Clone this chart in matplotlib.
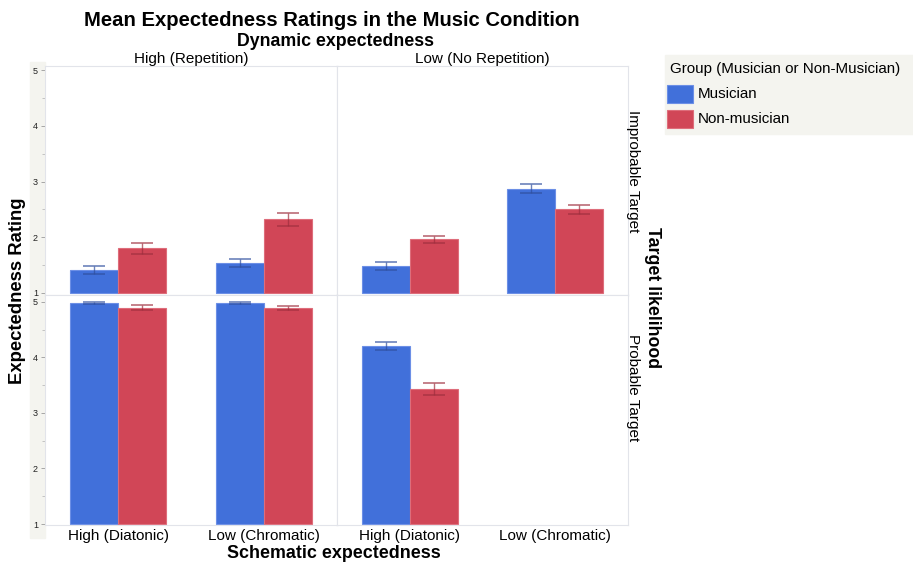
import matplotlib
matplotlib.use("Agg")
import matplotlib.pyplot as plt
from matplotlib.patches import Rectangle
import numpy as np

plt.rcParams['font.family'] = ['Liberation Sans', 'DejaVu Sans']

# Facet levels
dynamic_levels = ["High (Repetition)", "Low (No Repetition)"]
target_levels = ["Improbable Target", "Probable Target"]
schematic_levels = ["High (Diatonic)", "Low (Chromatic)"]
groups = ["Musician", "Non-musician"]

# Mean ratings [target][dynamic][schematic]; None = no data
musician_means = [
    [[1.41, 1.54], [1.49, 2.87]],
    [[4.98, 4.98], [4.21, None]],
]
musician_err = [
    [[0.07, 0.075], [0.07, 0.08]],
    [[0.025, 0.02], [0.075, None]],
]
nonmusician_means = [
    [[1.80, 2.32], [1.96, 2.50]],
    [[4.90, 4.89], [3.43, None]],
]
nonmusician_err = [
    [[0.095, 0.11], [0.07, 0.08]],
    [[0.04, 0.03], [0.11, None]],
]

yticks = [1, 2, 3, 4, 5]

blue = "#4170DA"
red = "#D14657"
blue_edge = "#6C8FE6"
red_edge = "#DE6D7B"
blue_err = "#2F4F9E"
red_err = "#9E2F3E"

W, H = 913, 562
fig = plt.figure(figsize=(W / 100, H / 100), dpi=100)


def box(x0, y0, x1, y1):
    return [x0 / W, 1 - y1 / H, (x1 - x0) / W, (y1 - y0) / H]


# Light strip behind the y axis
fig.patches.append(Rectangle((30 / W, 1 - 538 / H), 15 / W, 476 / H,
                             transform=fig.transFigure, color="#F4F4EF", zorder=-1))

col_x = [(45, 337), (337, 628)]
row_y = [(66, 295), (295, 525)]
row_ylim = [(0.964, 5.072), (0.982, 5.126)]
row_label_y = [171, 388]

width = 0.33
xpos = np.arange(len(schematic_levels))

for r in range(2):
    for c in range(2):
        ax = fig.add_axes(box(col_x[c][0], row_y[r][0], col_x[c][1], row_y[r][1]))
        ax.set_xlim(-0.5, 1.5)
        ax.set_ylim(*row_ylim[r])
        for s in ax.spines.values():
            s.set_color("#E2E4EA")
            s.set_linewidth(0.8)
        for k, (means, errs, fc, ec, erc) in enumerate([
            (musician_means, musician_err, blue, blue_edge, blue_err),
            (nonmusician_means, nonmusician_err, red, red_edge, red_err),
        ]):
            for j in range(len(schematic_levels)):
                m = means[r][c][j]
                if m is None:
                    continue
                e = errs[r][c][j]
                x = xpos[j] + (k - 0.5) * width
                ax.bar(x, m - 1.0, bottom=1.0, width=width, color=fc,
                       edgecolor=ec, linewidth=0.8, zorder=2)
                ax.errorbar(x, m, yerr=e, color=erc, alpha=0.7,
                            capsize=8, capthick=1.2, elinewidth=1.0, zorder=3)
        ax.set_yticks(yticks)
        ax.set_yticks(np.arange(1.5, 5, 1), minor=True)
        if c == 0:
            ax.tick_params(axis='y', which='major', labelsize=6.5, length=3,
                           color="#9A9A9A", labelcolor="#222222", pad=2, width=0.6)
            ax.tick_params(axis='y', which='minor', length=2, color="#B0B0B0", width=0.5)
        else:
            ax.tick_params(axis='y', which='both', left=False, labelleft=False)
        if r == 1:
            ax.set_xticks(xpos)
            ax.set_xticklabels(schematic_levels, fontsize=11)
            ax.tick_params(axis='x', length=0, pad=3)
        else:
            ax.set_xticks([])
        if r == 0:
            ax.set_title(dynamic_levels[c], fontsize=11, pad=1)

for r in range(2):
    fig.text(633 / W, 1 - row_label_y[r] / H, target_levels[r], rotation=-90,
             ha="center", va="center", fontsize=11)

fig.text(332 / W, 1 - 20 / H, "Mean Expectedness Ratings in the Music Condition",
         ha="center", va="center", fontsize=14.6, fontweight="bold")
fig.text(335 / W, 1 - 41 / H, "Dynamic expectedness",
         ha="center", va="center", fontsize=12.8, fontweight="bold")
fig.text(334 / W, 1 - 553 / H, "Schematic expectedness",
         ha="center", va="center", fontsize=12.9, fontweight="bold")
fig.text(18 / W, 1 - 291 / H, "Expectedness Rating", rotation=90,
         ha="center", va="center", fontsize=13.3, fontweight="bold")
fig.text(652 / W, 1 - 298 / H, "Target likelihood", rotation=-90,
         ha="center", va="center", fontsize=12.8, fontweight="bold")

# Legend
fig.patches.append(Rectangle((665 / W, 1 - 134 / H), 248 / W, 79 / H,
                             transform=fig.transFigure, color="#F4F4EF", zorder=-1))
fig.text(670 / W, 1 - 69 / H, "Group (Musician or Non-Musician)",
         ha="left", va="center", fontsize=10.9)
for i, (g, fc, ec) in enumerate(zip(groups, [blue, red], [blue_edge, red_edge])):
    yc = 94 + i * 25
    fig.patches.append(Rectangle((667 / W, 1 - (yc + 9) / H), 26 / W, 18 / H,
                                 transform=fig.transFigure, facecolor=fc,
                                 edgecolor=ec, linewidth=0.8, zorder=1))
    fig.text(698 / W, 1 - yc / H, g, ha="left", va="center", fontsize=10.9)

fig.savefig("out.png", dpi=100)
